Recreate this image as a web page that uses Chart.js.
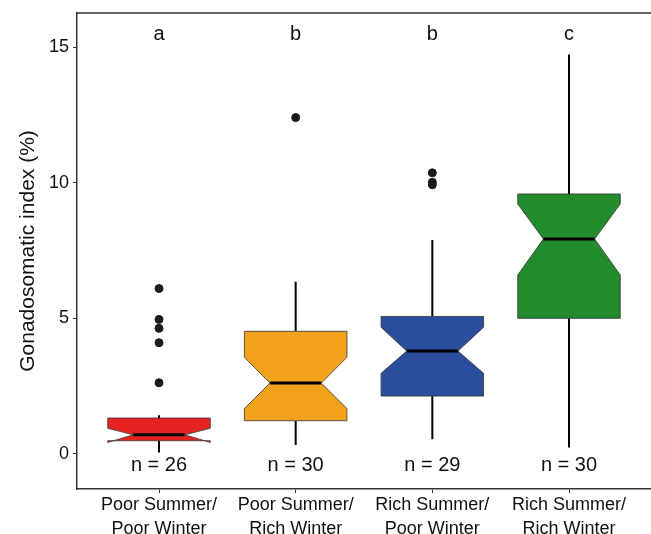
<!DOCTYPE html>
<html>
<head>
<meta charset="utf-8">
<script src="https://cdn.jsdelivr.net/npm/chart.js@4"></script>
<style>
  html, body { margin: 0; padding: 0; background: #fff; }
  #wrap { width: 651px; height: 534px; }
</style>
</head>
<body>
<div id="wrap"><canvas id="gsiChart" width="651" height="534"></canvas></div>
<script>
// Группы (обработки) и значения
const groupLabels = [
    ['Poor Summer/', 'Poor Winter'],
    ['Poor Summer/', 'Rich Winter'],
    ['Rich Summer/', 'Poor Winter'],
    ['Rich Summer/', 'Rich Winter']
];
const groupColors = ['#E52421', '#F3A31B', '#2B4E9C', '#228B2B'];

const whiskerLow  = [0.05, 0.32, 0.54, 0.23];
const q1          = [0.48, 1.22, 2.13, 5.00];
const notchLow    = [0.42, 1.67, 2.97, 6.60];
const medians     = [0.70, 2.61, 3.79, 7.93];
const notchHigh   = [0.94, 3.56, 4.67, 9.22];
const q3          = [1.32, 4.52, 5.07, 9.59];
const whiskerHigh = [1.42, 6.35, 7.89, 14.74];
const outliers = [
    [6.10, 4.96, 4.63, 4.10, 2.62],
    [12.41],
    [10.37, 10.02, 9.93],
    []
];
const sigLetters = ['a', 'b', 'b', 'c'];
const sampleSizes = [26, 30, 29, 30];
const yTicks = [0, 5, 10, 15];

const FONT = "'Liberation Sans', Arial, Helvetica, sans-serif";

// Точки-выбросы для scatter
const outlierPoints = [];
outliers.forEach((vals, i) => {
    vals.forEach(v => outlierPoints.push({ x: i + 1, y: v }));
});

// Плагин для рисования ящиков с насечками (notched boxplot)
const boxPlugin = {
    id: 'notchedBoxes',
    beforeDatasetsDraw(chart) {
        const { ctx, chartArea } = chart;
        const xs = chart.scales.x;
        const ys = chart.scales.y;
        const boxW = 0.375;   // половина ширины ящика в единицах оси x
        const notchW = 0.1875;

        ctx.save();
        // верхняя рамка панели
        ctx.strokeStyle = '#333';
        ctx.lineWidth = 1.5;
        ctx.beginPath();
        ctx.moveTo(chartArea.left, chartArea.top);
        ctx.lineTo(chartArea.right, chartArea.top);
        ctx.stroke();

        for (let i = 0; i < groupLabels.length; i++) {
            const c = i + 1;
            const xc = xs.getPixelForValue(c);
            const xl = xs.getPixelForValue(c - boxW);
            const xr = xs.getPixelForValue(c + boxW);
            const nl = xs.getPixelForValue(c - notchW);
            const nr = xs.getPixelForValue(c + notchW);
            const py = v => ys.getPixelForValue(v);

            // усы
            ctx.strokeStyle = '#000';
            ctx.lineWidth = 2;
            ctx.beginPath();
            ctx.moveTo(xc, py(q3[i]));
            ctx.lineTo(xc, py(whiskerHigh[i]));
            ctx.moveTo(xc, py(q1[i]));
            ctx.lineTo(xc, py(whiskerLow[i]));
            ctx.stroke();

            // ящик
            ctx.beginPath();
            ctx.moveTo(xl, py(q3[i]));
            ctx.lineTo(xl, py(notchHigh[i]));
            ctx.lineTo(nl, py(medians[i]));
            ctx.lineTo(xl, py(notchLow[i]));
            ctx.lineTo(xl, py(q1[i]));
            ctx.lineTo(xr, py(q1[i]));
            ctx.lineTo(xr, py(notchLow[i]));
            ctx.lineTo(nr, py(medians[i]));
            ctx.lineTo(xr, py(notchHigh[i]));
            ctx.lineTo(xr, py(q3[i]));
            ctx.closePath();
            ctx.fillStyle = groupColors[i];
            ctx.fill();
            ctx.strokeStyle = '#333';
            ctx.lineWidth = 0.8;
            ctx.stroke();

            // медиана
            ctx.strokeStyle = '#000';
            ctx.lineWidth = 3;
            ctx.beginPath();
            ctx.moveTo(nl, py(medians[i]));
            ctx.lineTo(nr, py(medians[i]));
            ctx.stroke();

            // буквы и n
            ctx.fillStyle = '#111';
            ctx.textAlign = 'center';
            ctx.textBaseline = 'middle';
            ctx.font = '20px ' + FONT;
            ctx.fillText(sigLetters[i], xc, py(15.48));
            ctx.fillText('n = ' + sampleSizes[i], xc, py(-0.42));
        }
        ctx.restore();
    }
};

const chart = new Chart(document.getElementById('gsiChart').getContext('2d'), {
    type: 'scatter',
    data: {
        datasets: [{
            label: 'outliers',
            data: outlierPoints,
            backgroundColor: '#1a1a1a',
            borderColor: '#1a1a1a',
            pointRadius: 4,
            pointHoverRadius: 4
        }]
    },
    options: {
        responsive: false,
        animation: false,
        layout: { autoPadding: false, padding: { top: 13, left: 0, right: 0, bottom: 0 } },
        plugins: {
            legend: { display: false },
            tooltip: { enabled: false }
        },
        scales: {
            x: {
                type: 'linear',
                min: 0.4,
                max: 4.6,
                afterBuildTicks: s => { s.ticks = [1, 2, 3, 4].map(v => ({ value: v })); },
                afterFit: s => {
                    s.height = 45;
                    s.paddingLeft = 0;
                    s.paddingRight = 0;
                },
                ticks: {
                    autoSkip: false,
                    maxRotation: 0,
                    padding: 0,
                    color: '#111',
                    font: { family: FONT, size: 18, lineHeight: 1.333 },
                    callback: v => groupLabels[v - 1]
                },
                grid: { drawOnChartArea: false, tickLength: 4, color: '#333', lineWidth: 1 },
                border: { display: true, color: '#333', width: 1.5 }
            },
            y: {
                type: 'linear',
                min: -1.30,
                max: 16.27,
                afterBuildTicks: s => { s.ticks = yTicks.map(v => ({ value: v })); },
                afterFit: s => {
                    s.width = 77;
                    s.paddingTop = 0;
                    s.paddingBottom = 0;
                },
                ticks: {
                    padding: 4,
                    color: '#111',
                    font: { family: FONT, size: 18 }
                },
                grid: { drawOnChartArea: false, tickLength: 4, color: '#333', lineWidth: 1 },
                border: { display: true, color: '#333', width: 1.5 },
                title: {
                    display: true,
                    text: 'Gonadosomatic index (%)',
                    color: '#111',
                    padding: { top: 16, bottom: 0 },
                    font: { family: FONT, size: 21, lineHeight: 1.2 }
                }
            }
        }
    },
    plugins: [boxPlugin]
});
</script>
</body>
</html>
